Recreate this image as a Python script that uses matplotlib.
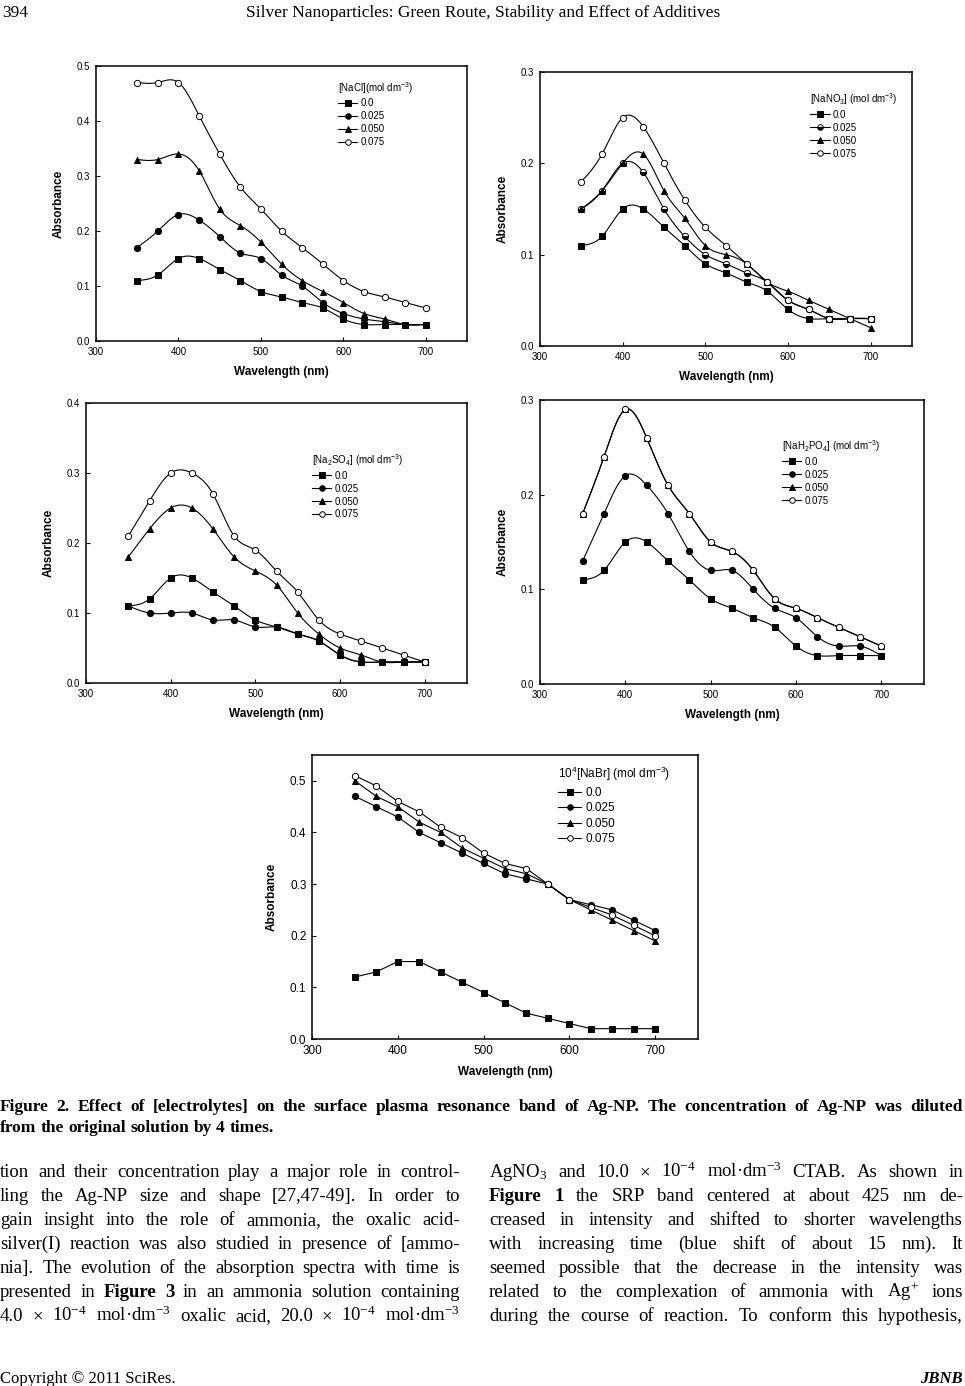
import numpy as np
import matplotlib
matplotlib.use('Agg')
import matplotlib.pyplot as plt
from matplotlib.lines import Line2D
from matplotlib.ticker import MultipleLocator, FormatStrFormatter

W, H = 965, 1386

plt.rcParams['font.family'] = ['Liberation Sans', 'DejaVu Sans']

# ---- data ----
wl = [350, 375, 400, 425, 450, 475, 500, 525, 550, 575, 600, 625, 650, 675, 700]
conc = ['0.0', '0.025', '0.050', '0.075']

nacl_000 = [0.11, 0.12, 0.15, 0.15, 0.13, 0.11, 0.09, 0.08, 0.07, 0.06, 0.04, 0.03, 0.03, 0.03, 0.03]
nacl_025 = [0.17, 0.20, 0.23, 0.22, 0.19, 0.16, 0.15, 0.12, 0.10, 0.07, 0.05, 0.04, 0.035, 0.03, 0.03]
nacl_050 = [0.33, 0.33, 0.34, 0.31, 0.24, 0.21, 0.18, 0.14, 0.11, 0.09, 0.07, 0.05, 0.04, 0.03, 0.03]
nacl_075 = [0.47, 0.47, 0.47, 0.41, 0.34, 0.28, 0.24, 0.20, 0.17, 0.14, 0.11, 0.09, 0.08, 0.07, 0.06]

nano3_000 = [0.11, 0.12, 0.15, 0.15, 0.13, 0.11, 0.09, 0.08, 0.07, 0.06, 0.04, 0.03, 0.03, 0.03, 0.03]
nano3_025 = [0.15, 0.17, 0.20, 0.19, 0.15, 0.12, 0.10, 0.09, 0.08, 0.07, 0.05, 0.04, 0.03, 0.03, 0.03]
nano3_050 = [0.15, 0.17, 0.20, 0.21, 0.17, 0.14, 0.11, 0.10, 0.09, 0.07, 0.06, 0.05, 0.04, 0.03, 0.02]
nano3_075 = [0.18, 0.21, 0.25, 0.24, 0.20, 0.16, 0.13, 0.11, 0.09, 0.07, 0.05, 0.04, 0.03, 0.03, 0.03]

na2so4_000 = [0.11, 0.12, 0.15, 0.15, 0.13, 0.11, 0.09, 0.08, 0.07, 0.06, 0.04, 0.03, 0.03, 0.03, 0.03]
na2so4_025 = [0.11, 0.10, 0.10, 0.10, 0.09, 0.09, 0.08, 0.08, 0.07, 0.06, 0.04, 0.03, 0.03, 0.03, 0.03]
na2so4_050 = [0.18, 0.22, 0.25, 0.25, 0.22, 0.18, 0.16, 0.14, 0.10, 0.07, 0.05, 0.04, 0.03, 0.03, 0.03]
na2so4_075 = [0.21, 0.26, 0.30, 0.30, 0.27, 0.21, 0.19, 0.16, 0.13, 0.09, 0.07, 0.06, 0.05, 0.04, 0.03]

nah2po4_000 = [0.11, 0.12, 0.15, 0.15, 0.13, 0.11, 0.09, 0.08, 0.07, 0.06, 0.04, 0.03, 0.03, 0.03, 0.03]
nah2po4_025 = [0.13, 0.18, 0.22, 0.21, 0.18, 0.14, 0.12, 0.12, 0.10, 0.08, 0.07, 0.05, 0.04, 0.04, 0.03]
nah2po4_050 = [0.18, 0.24, 0.29, 0.26, 0.21, 0.18, 0.15, 0.14, 0.12, 0.09, 0.08, 0.07, 0.06, 0.05, 0.04]
nah2po4_075 = [0.18, 0.24, 0.29, 0.26, 0.21, 0.18, 0.15, 0.14, 0.12, 0.09, 0.08, 0.07, 0.06, 0.05, 0.04]

nabr_000 = [0.12, 0.13, 0.15, 0.15, 0.13, 0.11, 0.09, 0.07, 0.05, 0.04, 0.03, 0.02, 0.02, 0.02, 0.02]
nabr_025 = [0.47, 0.45, 0.43, 0.40, 0.38, 0.36, 0.34, 0.32, 0.31, 0.30, 0.27, 0.26, 0.25, 0.23, 0.21]
nabr_050 = [0.50, 0.47, 0.45, 0.42, 0.40, 0.37, 0.35, 0.33, 0.32, 0.30, 0.27, 0.25, 0.23, 0.21, 0.19]
nabr_075 = [0.51, 0.49, 0.46, 0.44, 0.41, 0.39, 0.36, 0.34, 0.33, 0.30, 0.27, 0.255, 0.24, 0.22, 0.20]

header_page = '394'
header_title = 'Silver Nanoparticles: Green Route, Stability and Effect of Additives'
caption = ['Figure 2. Effect of [electrolytes] on the surface plasma resonance band of Ag-NP. The concentration of Ag-NP was diluted',
           'from the original solution by 4 times.']
SUP4 = r'$\mathregular{^{-4}}$'
SUP3 = r'$\mathregular{^{-3}}$'
left_col = [
    'tion and their concentration play a major role in control-',
    'ling the Ag-NP size and shape [27,47-49]. In order to',
    'gain insight into the role of ammonia, the oxalic acid-',
    'silver(I) reaction was also studied in presence of [ammo-',
    'nia]. The evolution of the absorption spectra with time is',
    'presented in *Figure *3 in an ammonia solution containing',
    '4.0 × 10' + SUP4 + ' mol·dm' + SUP3 + ' oxalic acid, 20.0 × 10' + SUP4 + ' mol·dm' + SUP3,
]
right_col = [
    r'AgNO$\mathregular{_3}$ and 10.0 × 10' + SUP4 + ' mol·dm' + SUP3 + ' CTAB. As shown in',
    '*Figure *1 the SRP band centered at about 425 nm de-',
    'creased in intensity and shifted to shorter wavelengths',
    'with increasing time (blue shift of about 15 nm). It',
    'seemed possible that the decrease in the intensity was',
    r'related to the complexation of ammonia with Ag$\mathregular{^{+}}$ ions',
    'during the course of reaction. To conform this hypothesis,',
]


def spline(x, y, num=300):
    # natural cubic spline, used only to draw the smooth curve through the points
    x = np.asarray(x, float)
    y = np.asarray(y, float)
    n = len(x)
    h = np.diff(x)
    A = np.zeros((n, n))
    b = np.zeros(n)
    A[0, 0] = A[-1, -1] = 1
    for i in range(1, n - 1):
        A[i, i - 1] = h[i - 1]
        A[i, i] = 2 * (h[i - 1] + h[i])
        A[i, i + 1] = h[i]
        b[i] = 3 * ((y[i + 1] - y[i]) / h[i] - (y[i] - y[i - 1]) / h[i - 1])
    c = np.linalg.solve(A, b)
    xs = np.linspace(x[0], x[-1], num)
    i = np.clip(np.searchsorted(x, xs) - 1, 0, n - 2)
    dx = xs - x[i]
    bb = (y[i + 1] - y[i]) / h[i] - h[i] * (2 * c[i] + c[i + 1]) / 3
    d = (c[i + 1] - c[i]) / (3 * h[i])
    return xs, y[i] + bb * dx + c[i] * dx ** 2 + d * dx ** 3


def rect(l, t, r, b):
    return [l / W, 1 - b / H, (r - l) / W, (b - t) / H]


STYLES = [dict(marker='s', mfc='black'), dict(marker='o', mfc='black'),
          dict(marker='^', mfc='black'), dict(marker='o', mfc='white')]

fig = plt.figure(figsize=(W / 100, H / 100), dpi=100)


def panel(box, series, ymax, title, lx, ly, smooth=True, fs=7, styles=STYLES, ms=4.5):
    ax = fig.add_axes(rect(*box))
    for y, st in zip(series, styles):
        xs, ys = spline(wl, y) if smooth else (wl, y)
        ax.plot(xs, ys, color='black', lw=0.8)
        ax.plot(wl, y, ls='none', color='black', mec='black', ms=ms, mew=0.7, **st)
    ax.set_xlim(300, 750)
    ax.set_ylim(0, ymax)
    ax.set_xticks([300, 400, 500, 600, 700])
    ax.yaxis.set_major_locator(MultipleLocator(0.1))
    ax.yaxis.set_major_formatter(FormatStrFormatter('%.1f'))
    ax.tick_params(direction='in', length=3, width=0.8, labelsize=fs, pad=4)
    for s in ax.spines.values():
        s.set_linewidth(1.1)
    ax.set_xlabel('Wavelength (nm)', fontsize=8.5, fontweight='bold', labelpad=7)
    ax.set_ylabel('Absorbance', fontsize=8.5, fontweight='bold', labelpad=9)
    handles = [Line2D([], [], color='black', lw=0.8, ms=ms - 0.5, mec='black', mew=0.7, **st) for st in styles]
    ax.legend(handles, conc, title=title, loc='upper left', bbox_to_anchor=(lx, ly),
              frameon=False, fontsize=fs, title_fontsize=fs, handlelength=2.0,
              handletextpad=0.3, labelspacing=0.3, borderaxespad=0, borderpad=0,
              alignment='left')
    return ax


panel((96, 66, 467, 341), [nacl_000, nacl_025, nacl_050, nacl_075], 0.5,
      r'[NaCl](mol dm$\mathregular{^{-3}}$)', 0.652, 0.95)
st2 = list(STYLES)
st2[1] = dict(marker='o', mfc='black', fillstyle='bottom', mfcalt='white')
panel((540, 72, 912, 346), [nano3_000, nano3_025, nano3_050, nano3_075], 0.3,
      r'[NaNO$\mathregular{_3}$] (mol dm$\mathregular{^{-3}}$)', 0.726, 0.93, styles=st2)
panel((86, 403, 467, 683), [na2so4_000, na2so4_025, na2so4_050, na2so4_075], 0.4,
      r'[Na$\mathregular{_2}$SO$\mathregular{_4}$] (mol dm$\mathregular{^{-3}}$)', 0.593, 0.825)
panel((540, 400, 924, 684), [nah2po4_000, nah2po4_025, nah2po4_050, nah2po4_075], 0.3,
      r'[NaH$\mathregular{_2}$PO$\mathregular{_4}$] (mol dm$\mathregular{^{-3}}$)', 0.63, 0.866)
panel((312, 755, 698, 1039), [nabr_000, nabr_025, nabr_050, nabr_075], 0.55,
      r'10$\mathregular{^4}$[NaBr] (mol dm$\mathregular{^{-3}}$)', 0.637, 0.965,
      smooth=False, fs=8.5)

# ---- page text ----
renderer = fig.canvas.get_renderer()
SERIF = 'Liberation Serif'


def make_words(line, yb, size, weight='normal'):
    objs = []
    for w in line.split(' '):
        bold = w.startswith('*')
        objs.append(fig.text(0, 1 - yb / H, w.lstrip('*'), fontsize=size, family=SERIF,
                             fontweight='bold' if bold else weight, va='baseline', ha='left'))
    return objs


def natural(line, size, weight='normal'):
    objs = make_words(line, 0, size, weight)
    total = sum(t.get_window_extent(renderer).width for t in objs)
    for t in objs:
        t.remove()
    return total + 0.2 * size * 100 / 72 * (len(objs) - 1)


def fit_size(lines, width, size, weight='normal'):
    for line in lines:
        need = natural(line, size, weight)
        if need > width:
            size *= width / need * 0.998
    return size


def put_line(line, x0, x1, yb, size, weight='normal', justify=True):
    objs = make_words(line, yb, size, weight)
    widths = [t.get_window_extent(renderer).width for t in objs]
    if justify and len(objs) > 1:
        gap = (x1 - x0 - sum(widths)) / (len(objs) - 1)
    else:
        gap = 0.25 * size * 100 / 72
    x = x0
    for t, w in zip(objs, widths):
        t.set_x(x / W)
        x += w + gap


fig.text(2 / W, 1 - 17 / H, header_page, fontsize=12.5, family=SERIF, va='baseline')
fig.text(483 / W, 1 - 17 / H, header_title, fontsize=12.5, family=SERIF, va='baseline', ha='center')

cs = fit_size(caption[:1], 963, 12.5, 'bold')
put_line(caption[0], 0, 963, 1111, cs, 'bold')
put_line(caption[1], 0, 963, 1132, cs, 'bold', justify=False)

bs = min(fit_size(left_col, 460, 13.5), fit_size(right_col, 474, 13.5))
for k, line in enumerate(left_col):
    put_line(line, 0, 460, 1177 + 24 * k, bs)
for k, line in enumerate(right_col):
    put_line(line, 489, 963, 1177 + 24 * k, bs)

fig.text(0, 1 - 1383 / H, 'Copyright © 2011 SciRes.', fontsize=12, family=SERIF, va='baseline')
fig.text(963 / W, 1 - 1383 / H, 'JBNB', fontsize=12, family=SERIF, va='baseline', ha='right',
         fontweight='bold', style='italic')

fig.savefig('out.png', dpi=100)
